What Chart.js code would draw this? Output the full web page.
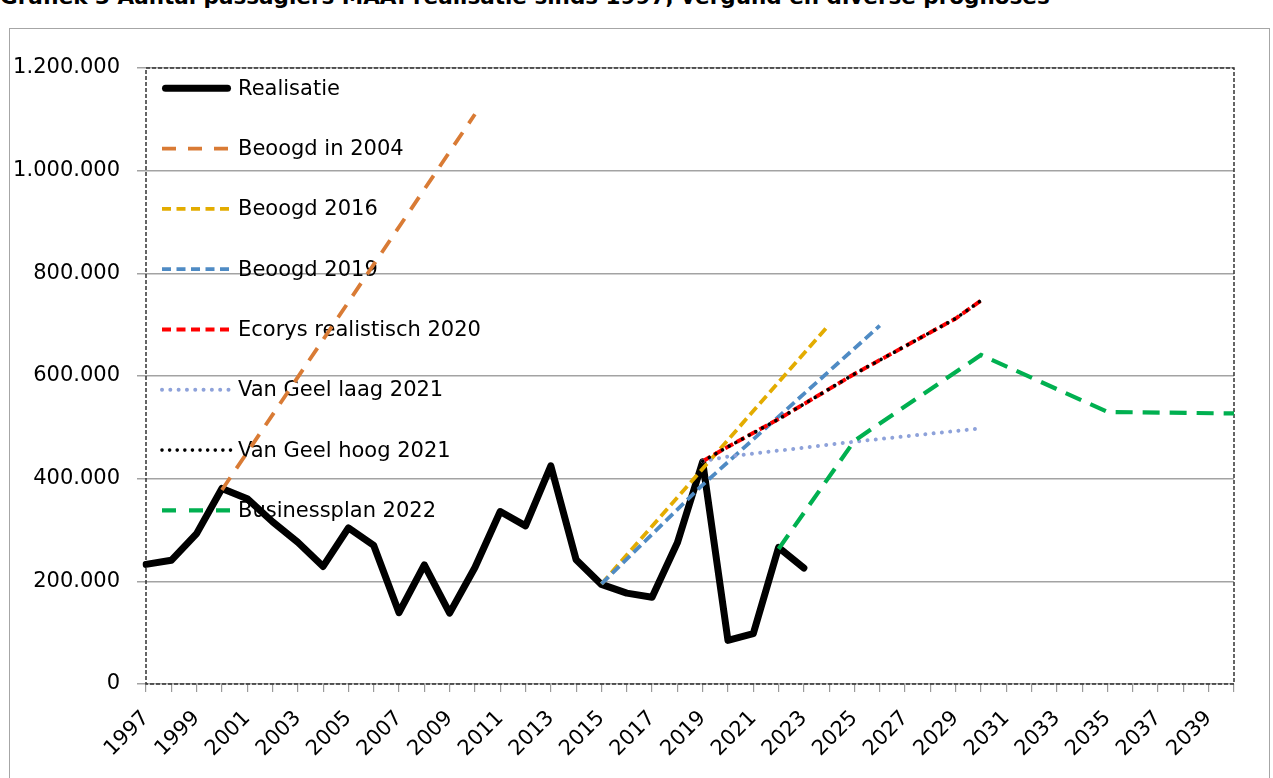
<!DOCTYPE html>
<html>
<head>
<meta charset="utf-8">
<script src="https://cdn.jsdelivr.net/npm/chart.js@4.4.1/dist/chart.umd.min.js"></script>
<style>
  html, body { margin: 0; padding: 0; background: #fff; overflow: hidden; }
  #wrap { position: relative; width: 1273px; height: 778px; overflow: hidden; }
  #title { position: absolute; left: 0; top: -13px; font: bold 21.5px "DejaVu Sans"; line-height: 20px; white-space: nowrap; color: #000; }
  #frame { position: absolute; left: 9px; top: 28px; width: 1261px; height: 800px; border: 1px solid #a6a6a6; box-sizing: border-box; }
  #c { position: absolute; left: 0; top: 0; }
</style>
</head>
<body>
<div id="wrap">
  <div id="title">Grafiek 3 Aantal passagiers MAA: realisatie sinds 1997, vergund en diverse prognoses</div>
  <div id="frame"></div>
  <canvas id="c" width="1273" height="778"></canvas>
</div>
<script>
// Years on the category axis
const years = ['1997','1998','1999','2000','2001','2002','2003','2004','2005','2006',
               '2007','2008','2009','2010','2011','2012','2013','2014','2015','2016',
               '2017','2018','2019','2020','2021','2022','2023','2024','2025','2026',
               '2027','2028','2029','2030','2031','2032','2033','2034','2035','2036',
               '2037','2038','2039','2040'];

// Realised passenger numbers, 1997 to 2023
const realisatie = [233000, 241000, 293000, 381000, 361000, 316000, 276000, 229000, 304000, 270000,
                    139000, 232000, 138000, 227000, 336000, 308000, 425000, 242000, 194000, 177000,
                    169000, 275000, 433000, 85000, 98000, 266000, 226000];

// Forecasts: years and values
const beoogd2004Jaren = ['2000', '2010'];
const beoogd2004 = [378000, 1110000];

const beoogd2016Jaren = ['2015', '2024'];
const beoogd2016 = [195000, 700000];

const beoogd2019Jaren = ['2015', '2019', '2026'];
const beoogd2019 = [195000, 388000, 698000];

const ecorysJaren = ['2019', '2020', '2022', '2025', '2027', '2029', '2030'];
const ecorys2020 = [434000, 462000, 516000, 604000, 658000, 712000, 747000];

const vanGeelLaagJaren = ['2019', '2020', '2025', '2030'];
const vanGeelLaag = [434000, 443000, 472000, 498000];

const vanGeelHoogJaren = ['2019', '2020', '2022', '2025', '2027', '2029', '2030'];
const vanGeelHoog = [434000, 462000, 516000, 604000, 658000, 712000, 747000];

const businessplanJaren = ['2022', '2025', '2030', '2035', '2040'];
const businessplan = [263000, 474000, 641000, 530000, 527000];

// Y axis ticks
const yTicks = [0, 200000, 400000, 600000, 800000, 1000000, 1200000];

const FONT = { family: 'DejaVu Sans', size: 21 };

function pairs(xs, ys) { return ys.map((v, i) => ({ x: xs[i], y: v })); }
function formatNL(v) { return String(v).replace(/\B(?=(\d{3})+(?!\d))/g, '.'); }

// Legend drawn inside the plot area, beneath the lines
const innerLegend = {
  id: 'innerLegend',
  beforeDatasetsDraw(chart) {
    const ctx = chart.ctx;
    const area = chart.chartArea;
    const x0 = area.left + 16, x1 = area.left + 85, tx = area.left + 92;
    const firstY = area.top + 20.3, step = 60.3;
    ctx.save();
    chart.data.datasets.forEach((ds, i) => {
      const y = firstY + i * step;
      ctx.save();
      ctx.strokeStyle = ds.borderColor;
      ctx.lineWidth = ds.borderWidth;
      ctx.lineCap = ds.borderCapStyle || 'butt';
      ctx.setLineDash(ds.legendDash || ds.borderDash || []);
      ctx.beginPath();
      const inset = ds.borderCapStyle === 'round' && !ds.borderDash ? ds.borderWidth / 2 : 0;
      ctx.moveTo(x0 + inset, y);
      ctx.lineTo(x1 - inset, y);
      ctx.stroke();
      ctx.restore();
      ctx.fillStyle = '#000';
      ctx.font = FONT.size + 'px "' + FONT.family + '"';
      ctx.textAlign = 'left';
      ctx.textBaseline = 'middle';
      ctx.fillText(ds.label, tx, y + 1);
    });
    ctx.restore();
  }
};

// Dashed frame round the plot area
const plotFrame = {
  id: 'plotFrame',
  beforeDatasetsDraw(chart) {
    const ctx = chart.ctx, a = chart.chartArea;
    ctx.save();
    ctx.strokeStyle = '#333333';
    ctx.lineWidth = 1.5;
    ctx.setLineDash([4, 2]);
    ctx.strokeRect(a.left, a.top, a.right - a.left, a.bottom - a.top);
    ctx.restore();
  }
};

new Chart(document.getElementById('c'), {
  type: 'line',
  data: {
    labels: years,
    datasets: [
      { label: 'Realisatie', data: realisatie.map((v, i) => ({ x: years[i], y: v })),
        borderColor: '#000000', borderWidth: 7, borderCapStyle: 'round', borderJoinStyle: 'round', order: 8 },
      { label: 'Beoogd in 2004', data: pairs(beoogd2004Jaren, beoogd2004),
        borderColor: '#D97B35', borderWidth: 3.8, borderDash: [15, 11], legendDash: [14, 12], order: 7 },
      { label: 'Beoogd 2016', data: pairs(beoogd2016Jaren, beoogd2016),
        borderColor: '#E3AC00', borderWidth: 3.8, borderDash: [10, 5], legendDash: [9, 5.5], order: 6 },
      { label: 'Beoogd 2019', data: pairs(beoogd2019Jaren, beoogd2019),
        borderColor: '#4F8BC4', borderWidth: 3.8, borderDash: [10, 5], legendDash: [9, 5.5], order: 5 },
      { label: 'Ecorys realistisch 2020', data: pairs(ecorysJaren, ecorys2020),
        borderColor: '#FF0000', borderWidth: 4, borderDash: [9, 4], legendDash: [9, 5.5], order: 4 },
      { label: 'Van Geel laag 2021', data: pairs(vanGeelLaagJaren, vanGeelLaag),
        borderColor: '#8EA2DA', borderWidth: 4, borderCapStyle: 'round', borderDash: [0.01, 8.3], order: 3 },
      { label: 'Van Geel hoog 2021', data: pairs(vanGeelHoogJaren, vanGeelHoog),
        borderColor: '#000000', borderWidth: 3.6, borderCapStyle: 'round', borderDash: [0.01, 7.6], order: 2 },
      { label: 'Businessplan 2022', data: pairs(businessplanJaren, businessplan),
        borderColor: '#00B050', borderWidth: 4.2, borderDash: [17, 10], legendDash: [14, 13], order: 1 }
    ]
  },
  options: {
    responsive: false,
    animation: false,
    devicePixelRatio: 1,
    layout: { padding: { left: 0, top: 68, right: 39, bottom: 0 } },
    elements: { point: { radius: 0, hoverRadius: 0 }, line: { tension: 0 } },
    plugins: { legend: { display: false }, tooltip: { enabled: false }, title: { display: false } },
    scales: {
      x: {
        type: 'category',
        offset: false,
        grid: { display: true, drawOnChartArea: false, drawTicks: true, tickLength: 8, color: '#9a9a9a', lineWidth: 1.2 },
        border: { display: false },
        ticks: {
          autoSkip: false, minRotation: 45, maxRotation: 45, padding: 14,
          color: '#000', font: FONT,
          callback: (v, i) => (i % 2 === 0 ? years[i] : '')
        },
        afterFit: (s) => { s.height = 94; }
      },
      y: {
        min: 0, max: 1200000,
        afterBuildTicks: (s) => { s.ticks = yTicks.map(v => ({ value: v })); },
        grid: { color: '#a3a3a3', lineWidth: 1.5, drawTicks: true, tickLength: 9, tickColor: '#a3a3a3' },
        border: { display: false },
        ticks: { padding: 17, color: '#000', font: FONT, callback: (v) => formatNL(v) },
        afterFit: (s) => { s.width = 146; }
      }
    }
  },
  plugins: [plotFrame, innerLegend]
});
</script>
</body>
</html>
